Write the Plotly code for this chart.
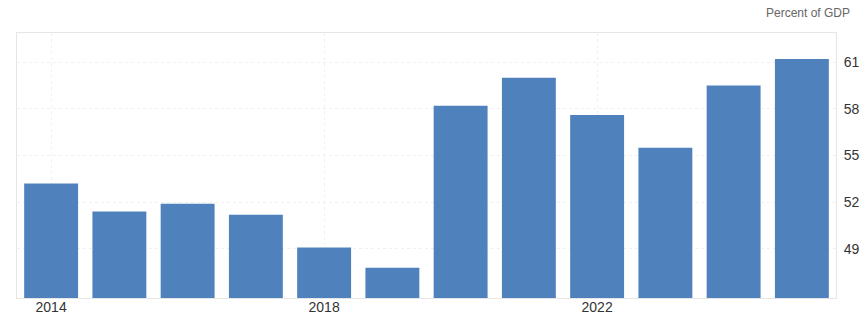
import plotly.graph_objects as go

years = [2014, 2015, 2016, 2017, 2018, 2019, 2020, 2021, 2022, 2023, 2024, 2025]
values = [53.2, 51.4, 51.9, 51.2, 49.1, 47.8, 58.2, 60.0, 57.6, 55.5, 59.5, 61.2]
x_ticks = [2014, 2018, 2022]
y_ticks = [49, 52, 55, 58, 61]
unit_label = "Percent of GDP"

fig = go.Figure(go.Bar(x=years, y=values, marker=dict(color="#4f81bd", line=dict(width=0))))

fig.update_layout(
    width=862, height=319,
    margin=dict(l=17, r=26, t=33, b=21),
    paper_bgcolor="white", plot_bgcolor="white",
    bargap=0.21,
    showlegend=False,
    font=dict(family="Liberation Sans, Arial, sans-serif", size=14, color="#333333"),
    annotations=[dict(text=unit_label, xref="paper", yref="paper", x=1.0195, y=1.0,
                      xanchor="right", yanchor="bottom", yshift=11, showarrow=False,
                      font=dict(size=12, color="#666666"))],
)
fig.update_xaxes(
    range=[2013.5, 2025.5], tickmode="array", tickvals=x_ticks,
    ticktext=[str(t) for t in x_ticks], automargin=False,
    showgrid=True, gridcolor="#f0f0f0", griddash="dot",
    showline=True, linecolor="#e6e6e6", mirror=True, ticks="", zeroline=False,
    ticklabelstandoff=-4,
)
fig.update_yaxes(
    side="right", range=[45.85, 62.87], tickmode="array", tickvals=y_ticks,
    automargin=False,
    showgrid=True, gridcolor="#f0f0f0", griddash="dot",
    showline=True, linecolor="#e6e6e6", mirror=True, ticks="", zeroline=False,
    ticklabelstandoff=4,
)

fig.write_html("out.html")
